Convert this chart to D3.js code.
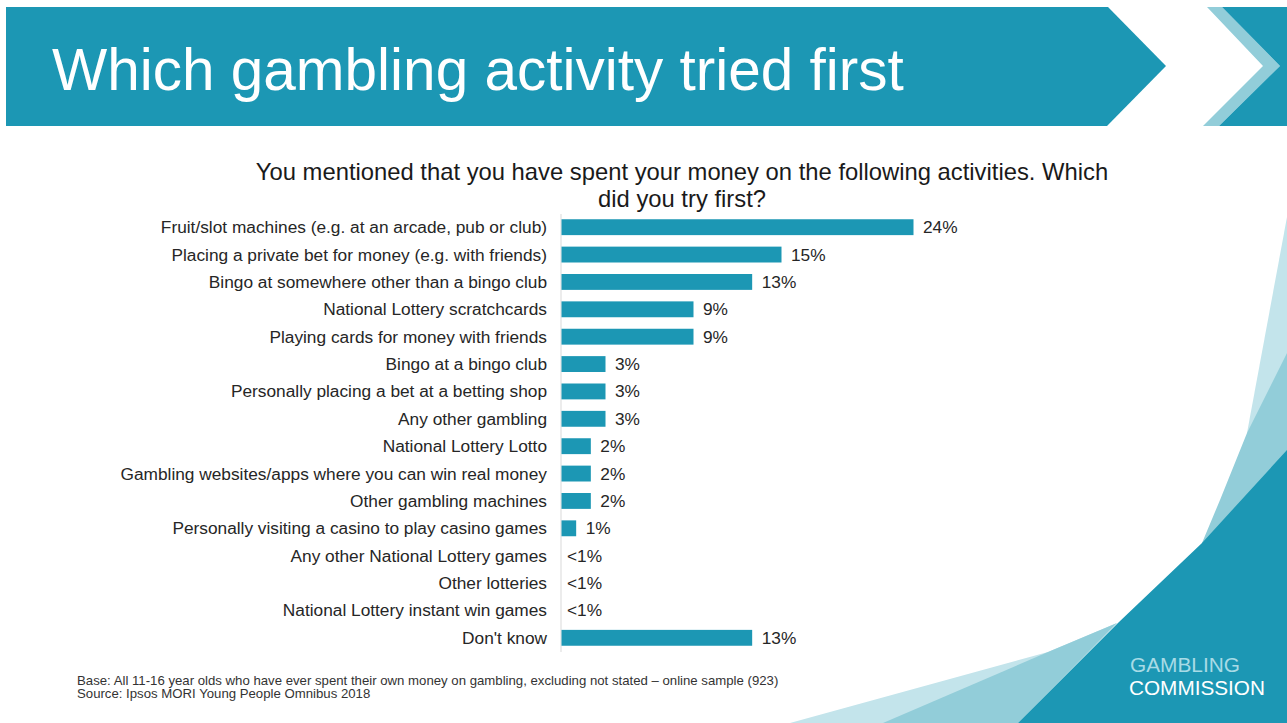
<!DOCTYPE html>
<html><head><meta charset="utf-8">
<script src="https://cdnjs.cloudflare.com/ajax/libs/d3/7.8.5/d3.min.js"></script>
<style>
html,body{margin:0;padding:0;background:#fff;}
svg{display:block;}
text{font-family:"Liberation Sans",Arial,sans-serif;}
</style></head>
<body>
<svg id="chart" width="1287" height="723"></svg>
<script>
const categories = [
  "Fruit/slot machines (e.g. at an arcade, pub or club)",
  "Placing a private bet for money (e.g. with friends)",
  "Bingo at somewhere other than a bingo club",
  "National Lottery scratchcards",
  "Playing cards for money with friends",
  "Bingo at a bingo club",
  "Personally placing a bet at a betting shop",
  "Any other gambling",
  "National Lottery Lotto",
  "Gambling websites/apps where you can win real money",
  "Other gambling machines",
  "Personally visiting a casino to play casino games",
  "Any other National Lottery games",
  "Other lotteries",
  "National Lottery instant win games",
  "Don't know"
];
const values = [24, 15, 13, 9, 9, 3, 3, 3, 2, 2, 2, 1, 0, 0, 0, 13];
const valueLabels = ["24%","15%","13%","9%","9%","3%","3%","3%","2%","2%","2%","1%","<1%","<1%","<1%","13%"];
const title = "Which gambling activity tried first";
const subtitleLines = ["You mentioned that you have spent your money on the following activities. Which", "did you try first?"];
const footnotes = ["Base: All 11-16 year olds who have ever spent their own money on gambling, excluding not stated \u2013 online sample (923)", "Source: Ipsos MORI Young People Omnibus 2018"];
const logoLines = ["GAMBLING", "COMMISSION"];

const teal = "#1c97b4", mid = "#92cdd9", light = "#c3e4eb";
const svg = d3.select("#chart");

// Header banner
svg.append("polygon").attr("points","6,7 1108,7 1166,66 1107,126 6,126").attr("fill",teal);
svg.append("polygon").attr("points","1207,7 1222,7 1280,66 1219,126 1203,126 1263,66").attr("fill",mid);
svg.append("polygon").attr("points","1222,7 1287,7 1287,126 1219,126 1280,66").attr("fill",teal);
svg.append("text").attr("x",52).attr("y",90).attr("fill","#fff")
  .attr("font-size",58.5).text(title);

// Decorative corner shapes
svg.append("polygon").attr("points","1287,217 1247,433 1287,433").attr("fill",light);
svg.append("polygon").attr("points","1287,353 1247,433 1220,500 1202,543 1287,543").attr("fill",mid);
svg.append("polygon").attr("points","1117,623 1048,652 790,723 1018,723").attr("fill",light);
svg.append("polygon").attr("points","1117,623 1048,652 883,723 1018,723").attr("fill",mid);
svg.append("polygon").attr("points","1287,450 1202,543 1119,622 1018,723 1287,723").attr("fill",teal);

// Subtitle
svg.append("g").selectAll("text").data(subtitleLines).join("text")
  .attr("x",682).attr("y",(d,i)=>180+i*27).attr("text-anchor","middle")
  .attr("font-size",23.8).attr("fill","#1a1a1a").text(d=>d);

// Chart
const x = d3.scaleLinear().domain([0,24]).range([561,913]);
const y = d3.scaleBand().domain(categories).range([213.5,651.5]).paddingInner(0.42).paddingOuter(0.21);

svg.append("line").attr("x1",561).attr("x2",561).attr("y1",214).attr("y2",652)
  .attr("stroke","#d9d9d9").attr("stroke-width",1);

svg.append("g").selectAll("rect").data(categories).join("rect")
  .attr("x",x(0)+0.5).attr("y",d=>y(d))
  .attr("width",(d,i)=>Math.max(0,x(values[i])-x(0)))
  .attr("height",y.bandwidth()).attr("fill",teal);

svg.append("g").selectAll("text").data(categories).join("text")
  .attr("x",547).attr("y",d=>y(d)+y.bandwidth()/2).attr("dy","0.35em")
  .attr("text-anchor","end").attr("font-size",17.3).attr("fill","#262626").text(d=>d);

svg.append("g").selectAll("text").data(categories).join("text")
  .attr("x",(d,i)=>x(values[i])+ (values[i]>0?10:6)).attr("y",d=>y(d)+y.bandwidth()/2).attr("dy","0.35em")
  .attr("font-size",17.3).attr("fill","#262626").text((d,i)=>valueLabels[i]);

// Footnotes
svg.append("g").selectAll("text").data(footnotes).join("text")
  .attr("x",77).attr("y",(d,i)=>685+i*13).attr("font-size",13.2).attr("fill","#333").text(d=>d);

// Logo
svg.append("text").attr("x",1130).attr("y",672).attr("font-size",20)
  .attr("textLength",110).attr("lengthAdjust","spacingAndGlyphs")
  .attr("fill","#a8dbe6").text(logoLines[0]);
svg.append("text").attr("x",1129).attr("y",695).attr("font-size",20)
  .attr("textLength",136).attr("lengthAdjust","spacingAndGlyphs")
  .attr("fill","#fff").text(logoLines[1]);
</script>
</body></html>
